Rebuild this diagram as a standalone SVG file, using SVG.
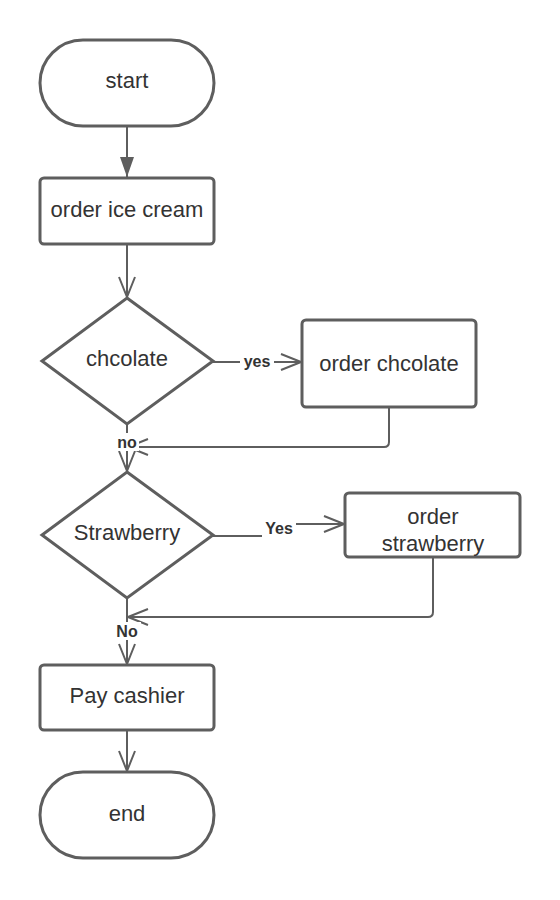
<svg xmlns="http://www.w3.org/2000/svg" width="560" height="900" viewBox="0 0 560 900">
<style>
.shape{fill:#fff;stroke:#5e5e5e;stroke-width:3}
.conn{fill:none;stroke:#5e5e5e;stroke-width:2}
.t{font-family:"Liberation Sans",Arial,sans-serif;font-size:22px;fill:#333;text-anchor:middle;dominant-baseline:central}
.lbl{font-family:"Liberation Sans",Arial,sans-serif;font-size:16px;font-weight:bold;fill:#333;text-anchor:middle;dominant-baseline:central}
.lblbg{fill:#fff}
</style>
<defs>
<marker id="filled" viewBox="0 0 20 14" refX="20" refY="7" markerWidth="20" markerHeight="14" markerUnits="userSpaceOnUse" orient="auto">
<path d="M0 0 L20 7 L0 14 Z" fill="#5e5e5e"/>
</marker>
<marker id="open" viewBox="0 0 22 18" refX="21" refY="9" markerWidth="22" markerHeight="18" markerUnits="userSpaceOnUse" orient="auto">
<path d="M1 1 L21 9 L1 17" fill="none" stroke="#5e5e5e" stroke-width="2"/>
</marker>
</defs>
<g id="connectors">
<path class="conn" d="M127 127 V177" marker-end="url(#filled)"/>
<path class="conn" d="M127 245 V297" marker-end="url(#open)"/>
<path class="conn" d="M213 362 H301" marker-end="url(#open)"/>
<path class="conn" d="M389 407 V442 Q389 447 384 447 H128" marker-end="url(#open)"/>
<path class="conn" d="M127 424 V471" marker-end="url(#open)"/>
<path class="conn" d="M213 536 H278 V524 H344" marker-end="url(#open)"/>
<path class="conn" d="M433 557 V612 Q433 617 428 617 H128" marker-end="url(#open)"/>
<path class="conn" d="M127 598 V664" marker-end="url(#open)"/>
<path class="conn" d="M127 731 V771" marker-end="url(#open)"/>
<rect class="lblbg" x="240" y="352" width="34" height="18"/>
<text class="lbl" x="257" y="361">yes</text>
<rect class="lblbg" x="115" y="433" width="24" height="18"/>
<text class="lbl" x="127" y="442">no</text>
<rect class="lblbg" x="262" y="519" width="34" height="18"/>
<text class="lbl" x="279" y="528">Yes</text>
<rect class="lblbg" x="113" y="622" width="28" height="18"/>
<text class="lbl" x="127" y="631">No</text>
</g>
<g id="start">
<rect class="shape" x="40" y="40" width="174" height="86" rx="43"/>
<text class="t" x="127" y="80">start</text>
</g>
<g id="order-ice-cream">
<rect class="shape" x="40" y="178" width="174" height="66" rx="4"/>
<text class="t" x="127" y="209">order ice cream</text>
</g>
<g id="chcolate">
<polygon class="shape" points="127,298 213,361 127,424 42,361"/>
<text class="t" x="127" y="358">chcolate</text>
</g>
<g id="order-chcolate">
<rect class="shape" x="302" y="320" width="174" height="87" rx="4"/>
<text class="t" x="389" y="363">order chcolate</text>
</g>
<g id="strawberry">
<polygon class="shape" points="127,472 213,535 127,598 42,535"/>
<text class="t" x="127" y="532">Strawberry</text>
</g>
<g id="order-strawberry">
<rect class="shape" x="345" y="493" width="175" height="64" rx="4"/>
<text class="t" x="433" y="516">order</text>
<text class="t" x="433" y="543">strawberry</text>
</g>
<g id="pay-cashier">
<rect class="shape" x="40" y="665" width="174" height="65" rx="4"/>
<text class="t" x="127" y="695">Pay cashier</text>
</g>
<g id="end">
<rect class="shape" x="40" y="772" width="174" height="86" rx="43"/>
<text class="t" x="127" y="813">end</text>
</g>
</svg>
